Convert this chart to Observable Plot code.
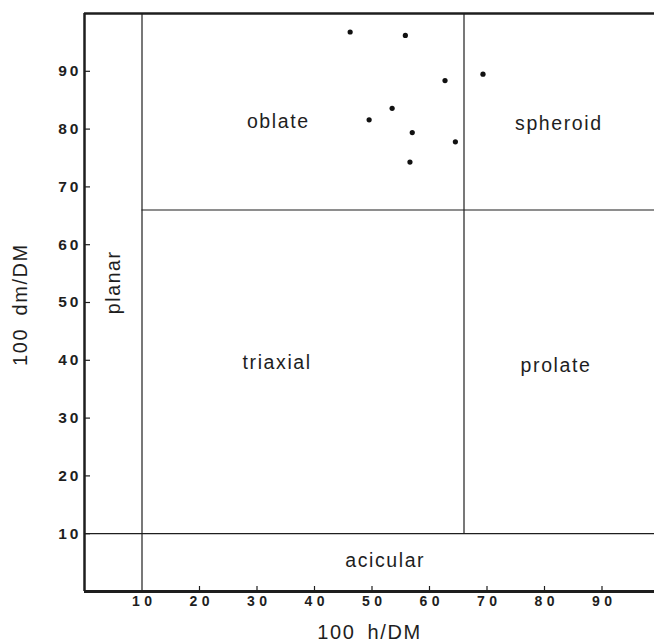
<!DOCTYPE html>
<html>
<head>
<meta charset="utf-8">
<script src="https://cdn.jsdelivr.net/npm/d3@7"></script>
<script src="https://cdn.jsdelivr.net/npm/@observablehq/plot@0.6"></script>
<style>
  html, body { margin: 0; padding: 0; background: #fff; }
  #chart svg { display: block; }
  g[aria-label="x-axis tick label"] text { letter-spacing: 4.5px; }
  g[aria-label="y-axis tick label"] text { letter-spacing: 3px; }
  g[aria-description="region labels"] text { letter-spacing: 1.6px; }
  g[aria-description="axis titles"] text { letter-spacing: 1.6px; word-spacing: 5px; }
</style>
</head>
<body>
<div id="chart"></div>
<script>
// Data
const hValues  = [46.2, 55.8, 62.7, 69.3, 53.5, 49.5, 57.0, 64.5, 56.6]; // 100 h/DM
const dmValues = [96.8, 96.2, 88.4, 89.5, 83.6, 81.6, 79.4, 77.8, 74.3]; // 100 dm/DM

const regionNames = ["oblate", "spheroid", "triaxial", "prolate", "acicular"];
const regionH     = [33.7, 82.5, 33.5, 82.0, 52.3];
const regionDm    = [81.2, 81.0, 39.6, 39.0, 5.4];
const planarName  = ["planar"];
const planarH     = [5.0];
const planarDm    = [53.5];

const lowerLimit = 10;   // class boundaries
const upperLimit = 66;
const axisMin = 0, axisMax = 100;

const xTicks = [10, 20, 30, 40, 50, 60, 70, 80, 90];
const xTickMarks = [20, 30, 40, 50, 60, 70, 80, 90];
const yTicks = [10, 20, 30, 40, 50, 60, 70, 80, 90];
const xTitle = "100 h/DM";
const yTitle = "100 dm/DM";

const points = hValues.map((h, i) => ({h, dm: dmValues[i]}));
const regions = regionNames.map((name, i) => ({name, h: regionH[i], dm: regionDm[i]}));
const planar = planarName.map((name, i) => ({name, h: planarH[i], dm: planarDm[i]}));

const ink = "#1e1e1e";
const font = "'Liberation Sans', Arial, Helvetica, sans-serif";

const chart = Plot.plot({
  width: 654,
  height: 644,
  marginLeft: 84,
  marginRight: 0,
  marginTop: 13,
  marginBottom: 53,
  style: {fontFamily: font, color: ink, background: "#fff"},
  x: {domain: [axisMin, axisMax], range: [84, 659]},
  y: {domain: [axisMin, axisMax], range: [591, 13]},
  marks: [
    // frame
    Plot.ruleY([axisMin], {x1: axisMin, x2: axisMax, stroke: ink, strokeWidth: 3}),
    Plot.ruleY([axisMax], {x1: axisMin, x2: axisMax, stroke: ink, strokeWidth: 2.5}),
    Plot.ruleX([axisMin], {y1: axisMin, y2: axisMax, stroke: ink, strokeWidth: 2.5}),
    // class boundaries
    Plot.ruleX([lowerLimit], {y1: axisMin, y2: axisMax, stroke: ink, strokeWidth: 1.2}),
    Plot.ruleX([upperLimit], {y1: lowerLimit, y2: axisMax, stroke: ink, strokeWidth: 1.2}),
    Plot.ruleY([upperLimit], {x1: lowerLimit, x2: axisMax, stroke: ink, strokeWidth: 1.2}),
    Plot.ruleY([lowerLimit], {x1: axisMin, x2: axisMax, stroke: ink, strokeWidth: 1.2}),
    // axes
    Plot.axisX({ticks: xTicks, tickSize: 0, tickPadding: 5, dx: 2.2, label: null,
      fontSize: 14, fontWeight: "bold", fill: ink}),
    Plot.axisX({ticks: xTickMarks, tickSize: -5, text: null, label: null, stroke: ink, strokeWidth: 1.2}),
    Plot.axisY({ticks: yTicks, tickSize: 0, tickPadding: 3, label: null,
      fontSize: 15.5, fontWeight: "bold", fill: ink}),
    Plot.axisY({ticks: yTicks, tickSize: -6, text: null, label: null, stroke: ink, strokeWidth: 1.2}),
    // axis titles
    Plot.text([xTitle], {frameAnchor: "bottom", dy: 41, text: d => d,
      textAnchor: "middle", lineAnchor: "middle",
      fontSize: 20, fill: ink, ariaDescription: "axis titles"}),
    Plot.text([yTitle], {frameAnchor: "left", dx: -64, dy: 2, rotate: -90, text: d => d,
      textAnchor: "middle", lineAnchor: "middle",
      fontSize: 20, fill: ink, ariaDescription: "axis titles"}),
    // region labels
    Plot.text(regions, {x: "h", y: "dm", text: "name", fontSize: 19.5, fill: ink,
      ariaDescription: "region labels"}),
    Plot.text(planar, {x: "h", y: "dm", text: "name", rotate: -90, fontSize: 19.5, fill: ink,
      ariaDescription: "region labels"}),
    // data points
    Plot.dot(points, {x: "h", y: "dm", r: 2.6, fill: "#111", stroke: "none"})
  ]
});

document.getElementById("chart").appendChild(chart);
</script>
</body>
</html>
